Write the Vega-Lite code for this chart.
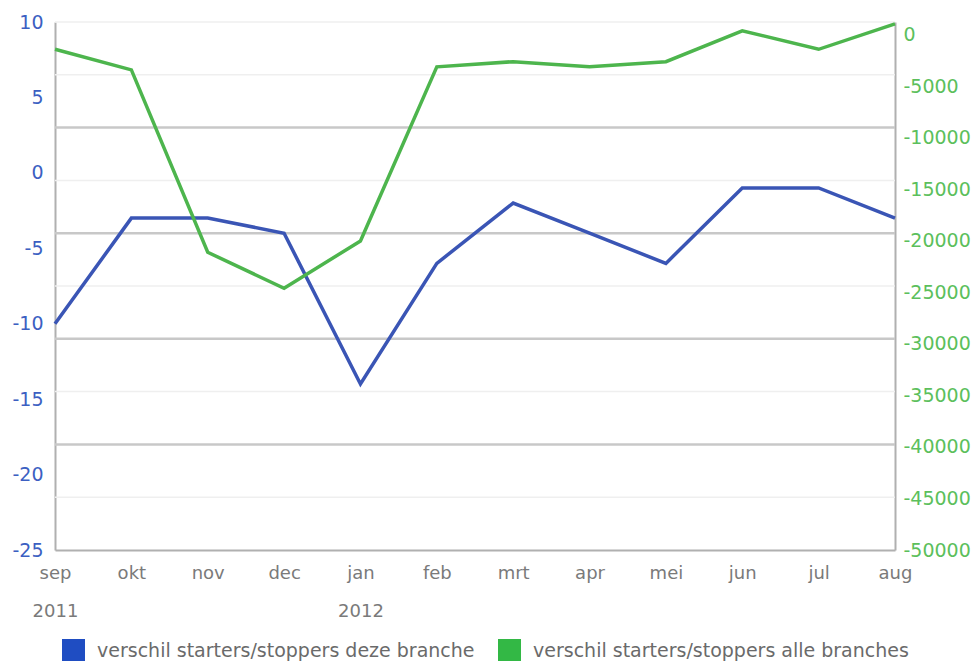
{
  "$schema": "https://vega.github.io/schema/vega-lite/v6.json",
  "autosize": "none",
  "width": 840,
  "height": 528,
  "padding": {"left": 55, "top": 22, "right": 81, "bottom": 111},
  "background": "white",
  "config": {
    "font": "DejaVu Sans",
    "view": {"stroke": null},
    "axis": {"labelFont": "DejaVu Sans", "ticks": false, "grid": false, "domainColor": "#b0b0b0", "domainWidth": 2, "title": null}
  },
  "datasets": {
    "series": [
      {"month": "sep", "branche": -10, "alle": -1400},
      {"month": "okt", "branche": -3, "alle": -3400},
      {"month": "nov", "branche": -3, "alle": -21100},
      {"month": "dec", "branche": -4, "alle": -24600},
      {"month": "jan", "branche": -14, "alle": -20000},
      {"month": "feb", "branche": -6, "alle": -3100},
      {"month": "mrt", "branche": -2, "alle": -2600},
      {"month": "apr", "branche": -4, "alle": -3100},
      {"month": "mei", "branche": -6, "alle": -2600},
      {"month": "jun", "branche": -1, "alle": 400},
      {"month": "jul", "branche": -1, "alle": -1400},
      {"month": "aug", "branche": -3, "alle": 1070}
    ],
    "grid": [
      {"g": 10, "kind": "minor"},
      {"g": 6.5, "kind": "minor"},
      {"g": -0.5, "kind": "minor"},
      {"g": -7.5, "kind": "minor"},
      {"g": -14.5, "kind": "minor"},
      {"g": -21.5, "kind": "minor"},
      {"g": 3, "kind": "major"},
      {"g": -4, "kind": "major"},
      {"g": -11, "kind": "major"},
      {"g": -18, "kind": "major"}
    ]
  },
  "layer": [
    {
      "layer": [
        {
          "data": {"name": "grid"},
          "transform": [{"filter": "datum.kind == 'minor'"}],
          "mark": {"type": "rule", "color": "#efefef", "strokeWidth": 1.5},
          "encoding": {
            "y": {"field": "g", "type": "quantitative", "scale": {"domain": [-25, 10], "nice": false, "zero": false}}
          }
        },
        {
          "data": {"name": "grid"},
          "transform": [{"filter": "datum.kind == 'major'"}],
          "mark": {"type": "rule", "color": "#c8c8c8", "strokeWidth": 2.5},
          "encoding": {
            "y": {"field": "g", "type": "quantitative"}
          }
        },
        {
          "data": {"name": "series"},
          "mark": {"type": "line", "strokeWidth": 3.5},
          "encoding": {
            "x": {"field": "month", "type": "ordinal", "sort": null, "scale": {"type": "point", "padding": 0},
              "axis": {"labelAngle": 0, "labelColor": "#7a7a7a", "labelFontSize": 18, "labelPadding": 14, "labelBaseline": "top", "labelLineHeight": 38,
                "labelExpr": "datum.value == 'sep' ? ['sep', '2011'] : datum.value == 'jan' ? ['jan', '2012'] : datum.label"}},
            "y": {"field": "branche", "type": "quantitative", "scale": {"domain": [-25, 10], "nice": false, "zero": false},
              "axis": {"orient": "left", "values": [-25, -20, -15, -10, -5, 0, 5, 10], "labelColor": "#3c5fc2", "labelFontSize": 19, "labelPadding": 12, "labelExpr": "'' + datum.value"}},
            "color": {"datum": "verschil starters/stoppers deze branche"}
          }
        }
      ]
    },
    {
      "data": {"name": "series"},
      "mark": {"type": "line", "strokeWidth": 3.5},
      "encoding": {
        "x": {"field": "month", "type": "ordinal", "sort": null, "scale": {"type": "point", "padding": 0}},
        "y": {"field": "alle", "type": "quantitative", "scale": {"domain": [-50000, 1250], "nice": false, "zero": false},
          "axis": {"orient": "right", "values": [-50000, -45000, -40000, -35000, -30000, -25000, -20000, -15000, -10000, -5000, 0], "labelColor": "#5cbf5c", "labelFontSize": 19, "labelPadding": 8, "labelExpr": "'' + datum.value"}},
        "color": {"datum": "verschil starters/stoppers alle branches",
          "scale": {"domain": ["verschil starters/stoppers deze branche", "verschil starters/stoppers alle branches"], "range": ["#3a55b5", "#4db54d"]},
          "legend": {"orient": "none", "legendX": 7, "legendY": 617, "direction": "horizontal", "title": null, "symbolType": "square", "symbolSize": 529,
            "symbolStrokeWidth": 0, "labelFontSize": 19, "labelColor": "#6a6a6a", "labelOffset": 12, "columnPadding": 23, "labelLimit": 500, "padding": 0,
            "encode": {"symbols": {"update": {"fill": {"signal": "datum.value == 'verschil starters/stoppers deze branche' ? '#1f4dc2' : '#33b845'"}, "fillOpacity": {"value": 1}}}}}
        }
      }
    }
  ],
  "resolve": {"scale": {"y": "independent"}}
}
